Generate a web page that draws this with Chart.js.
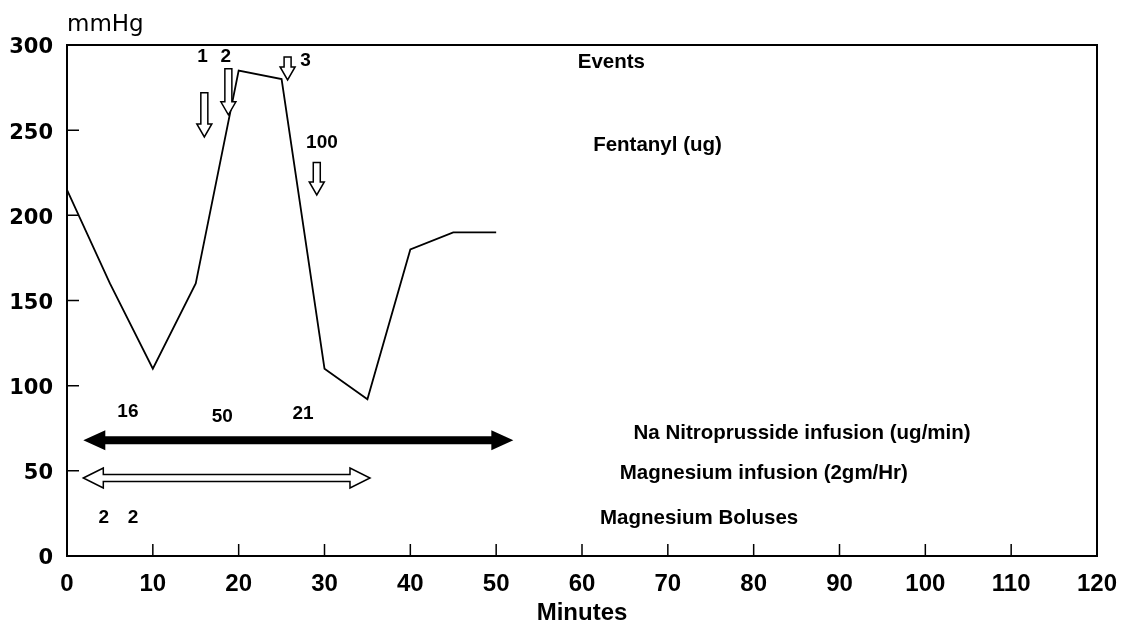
<!DOCTYPE html>
<html>
<head>
<meta charset="utf-8">
<script src="https://cdn.jsdelivr.net/npm/chart.js@4/dist/chart.umd.min.js"></script>
<style>
  body { margin: 0; background: #fff; }
</style>
</head>
<body>
<canvas id="bp" width="1127" height="636"></canvas>
<script>
// blood pressure trace
const minutes  = [0, 5, 10, 15, 20, 25, 30, 35, 40, 45, 50];
const pressure = [215, 160, 110, 160, 285, 280, 110, 92, 180, 190, 190];

const xTicks = [0, 10, 20, 30, 40, 50, 60, 70, 80, 90, 100, 110, 120];
const yTicks = [0, 50, 100, 150, 200, 250, 300];

// events / fentanyl doses (hollow down arrows), in minutes and mmHg
const eventLabels = ['1', '2', '3', '100'];
const eventX      = [16.0, 18.8, 25.7, 29.1];
const eventTop    = [272, 286, 293, 231];
const eventTip    = [246, 259, 279.5, 212];
const eventLabelX = [15.8, 18.5, 27.8, 29.7];
const eventLabelY = [293, 293, 291, 242.5];

// row names on the right
const rowNames = ['Events', 'Fentanyl (ug)', 'Na Nitroprusside infusion (ug/min)',
                  'Magnesium infusion (2gm/Hr)', 'Magnesium Boluses'];
const rowNameX = [59.5, 61.3, 66, 64.4, 62.1];
const rowNameY = [290, 241, 72, 48.7, 22.3];

// infusions (double arrows): nitroprusside, magnesium
const infusionStart = [1.9, 1.9];
const infusionEnd   = [52, 35.3];
const infusionY     = [68, 45.8];

const nitroDoses = ['16', '50', '21'];
const nitroDoseX = [7.1, 18.1, 27.5];
const nitroDoseY = [84.5, 82, 83.5];

const bolusDoses = ['2', '2'];
const bolusX     = [4.3, 7.7];
const bolusY     = [22.3, 22.3];


function downArrow(ctx, x, yTop, yTip) {
    const sw = 3.5, hw = 7.5, hl = 13;
    ctx.beginPath();
    ctx.moveTo(x - sw, yTop);
    ctx.lineTo(x + sw, yTop);
    ctx.lineTo(x + sw, yTip - hl);
    ctx.lineTo(x + hw, yTip - hl);
    ctx.lineTo(x, yTip);
    ctx.lineTo(x - hw, yTip - hl);
    ctx.lineTo(x - sw, yTip - hl);
    ctx.closePath();
    ctx.fillStyle = '#fff';
    ctx.fill();
    ctx.stroke();
}

function doubleArrow(ctx, x1, x2, y, half, hl, headHalf) {
    ctx.beginPath();
    ctx.moveTo(x1, y);
    ctx.lineTo(x1 + hl, y - headHalf);
    ctx.lineTo(x1 + hl, y - half);
    ctx.lineTo(x2 - hl, y - half);
    ctx.lineTo(x2 - hl, y - headHalf);
    ctx.lineTo(x2, y);
    ctx.lineTo(x2 - hl, y + headHalf);
    ctx.lineTo(x2 - hl, y + half);
    ctx.lineTo(x1 + hl, y + half);
    ctx.lineTo(x1 + hl, y + headHalf);
    ctx.closePath();
}

const annotations = {
    id: 'annotations',
    afterDatasetsDraw(chart) {
        const ctx = chart.ctx;
        const xs = chart.scales.x, ys = chart.scales.y;
        const a = chart.chartArea;
        ctx.save();
        ctx.strokeStyle = '#000';
        ctx.fillStyle = '#000';

        // frame
        ctx.lineWidth = 2;
        ctx.strokeRect(a.left, a.top, a.right - a.left, a.bottom - a.top);

        // inside tick marks
        ctx.lineWidth = 1.5;
        ctx.beginPath();
        xTicks.slice(1, -1).forEach(v => {
            const px = xs.getPixelForValue(v);
            ctx.moveTo(px, a.bottom);
            ctx.lineTo(px, a.bottom - 12);
        });
        yTicks.slice(1, -1).forEach(v => {
            const py = ys.getPixelForValue(v);
            ctx.moveTo(a.left, py);
            ctx.lineTo(a.left + 12, py);
        });
        ctx.stroke();

        // unit label
        ctx.font = '23px "DejaVu Sans"';
        ctx.textBaseline = 'middle';
        ctx.textAlign = 'left';
        ctx.fillText('mmHg', a.left, 25);

        // event arrows
        ctx.lineWidth = 1.5;
        for (let i = 0; i < eventX.length; i++) {
            downArrow(ctx, xs.getPixelForValue(eventX[i]),
                ys.getPixelForValue(eventTop[i]), ys.getPixelForValue(eventTip[i]));
        }
        ctx.fillStyle = '#000';
        ctx.font = 'bold 19px "Liberation Sans"';
        ctx.textAlign = 'center';
        for (let i = 0; i < eventLabels.length; i++) {
            ctx.fillText(eventLabels[i], xs.getPixelForValue(eventLabelX[i]), ys.getPixelForValue(eventLabelY[i]));
        }

        // nitroprusside: filled double arrow
        doubleArrow(ctx, xs.getPixelForValue(infusionStart[0]), xs.getPixelForValue(infusionEnd[0]),
            ys.getPixelForValue(infusionY[0]), 4, 22, 10);
        ctx.fill();

        // magnesium: hollow double arrow
        doubleArrow(ctx, xs.getPixelForValue(infusionStart[1]), xs.getPixelForValue(infusionEnd[1]),
            ys.getPixelForValue(infusionY[1]), 3.5, 20, 10);
        ctx.fillStyle = '#fff';
        ctx.fill();
        ctx.stroke();
        ctx.fillStyle = '#000';

        for (let i = 0; i < nitroDoses.length; i++) {
            ctx.fillText(nitroDoses[i], xs.getPixelForValue(nitroDoseX[i]), ys.getPixelForValue(nitroDoseY[i]));
        }
        for (let i = 0; i < bolusDoses.length; i++) {
            ctx.fillText(bolusDoses[i], xs.getPixelForValue(bolusX[i]), ys.getPixelForValue(bolusY[i]));
        }

        // row names
        ctx.font = 'bold 20.5px "Liberation Sans"';
        ctx.textAlign = 'left';
        for (let i = 0; i < rowNames.length; i++) {
            ctx.fillText(rowNames[i], xs.getPixelForValue(rowNameX[i]), ys.getPixelForValue(rowNameY[i]));
        }
        ctx.restore();
    }
};

const chart = new Chart(document.getElementById('bp'), {
    type: 'line',
    data: {
        datasets: [{
            data: minutes.map((m, i) => ({ x: m, y: pressure[i] })),
            borderColor: '#000',
            borderWidth: 1.8,
            pointRadius: 0,
            tension: 0,
            fill: false
        }]
    },
    options: {
        responsive: false,
        animation: false,
        devicePixelRatio: 1,
        layout: { padding: { top: 45, right: 30, left: 0, bottom: 0 } },
        plugins: { legend: { display: false }, tooltip: { enabled: false } },
        scales: {
            x: {
                type: 'linear',
                min: 0, max: 120,
                afterBuildTicks: s => { s.ticks = xTicks.map(v => ({ value: v })); },
                afterFit: s => { s.height = 80; s.paddingLeft = 0; s.paddingRight = 0; },
                grid: { display: false, drawTicks: false },
                border: { display: false },
                ticks: {
                    color: '#000',
                    padding: 14,
                    maxRotation: 0,
                    font: { family: 'Liberation Sans', size: 24, weight: 'bold' }
                },
                title: {
                    display: true,
                    text: 'Minutes',
                    color: '#000',
                    padding: { top: 0, bottom: 8 },
                    font: { family: 'Liberation Sans', size: 24, weight: 'bold' }
                }
            },
            y: {
                min: 0, max: 300,
                afterBuildTicks: s => { s.ticks = yTicks.map(v => ({ value: v })); },
                afterFit: s => { s.width = 67; },
                grid: { display: false, drawTicks: false },
                border: { display: false },
                ticks: {
                    color: '#000',
                    padding: 14,
                    labelOffset: 3,
                    font: { family: 'DejaVu Sans', size: 21, weight: 'bold' }
                }
            }
        }
    },
    plugins: [annotations]
});
</script>
</body>
</html>
